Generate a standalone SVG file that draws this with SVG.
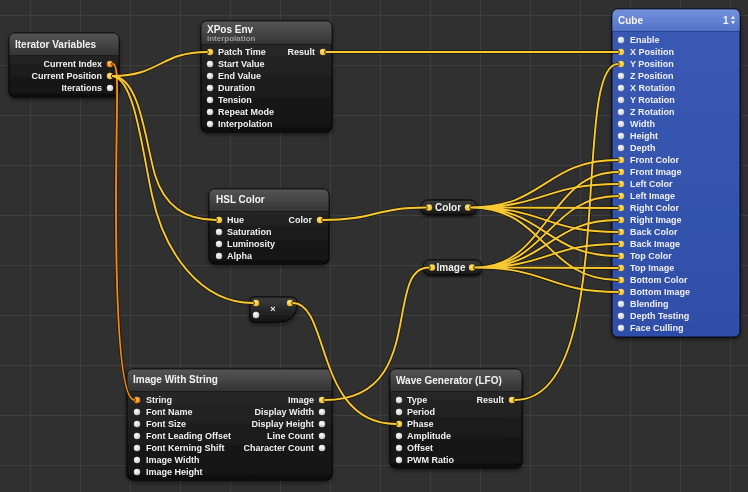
<svg xmlns="http://www.w3.org/2000/svg" width="748" height="492" viewBox="0 0 748 492">
<defs>
<pattern id="grid" x="30" y="15" width="50" height="50" patternUnits="userSpaceOnUse">
<path d="M0.5,0 V50 M0,0.5 H50" stroke="#3f3f3f" stroke-width="1" fill="none"/>
</pattern>
<linearGradient id="body" x1="0" y1="0" x2="0" y2="1">
<stop offset="0" stop-color="#2e2e2e"/><stop offset="1" stop-color="#101010"/>
</linearGradient>
<linearGradient id="head" x1="0" y1="0" x2="0" y2="1">
<stop offset="0" stop-color="#555555"/><stop offset="1" stop-color="#343434"/>
</linearGradient>
<linearGradient id="cbody" x1="0" y1="0" x2="0" y2="1">
<stop offset="0" stop-color="#3a5ab4"/><stop offset="1" stop-color="#2f4ea8"/>
</linearGradient>
<linearGradient id="chead" x1="0" y1="0" x2="0" y2="1">
<stop offset="0" stop-color="#7592da"/><stop offset="1" stop-color="#5272c8"/>
</linearGradient>
<linearGradient id="pill" x1="0" y1="0" x2="0" y2="1">
<stop offset="0" stop-color="#3c3c3c"/><stop offset="1" stop-color="#141414"/>
</linearGradient>
<radialGradient id="pw" cx="0.4" cy="0.35" r="0.7">
<stop offset="0" stop-color="#ffffff"/><stop offset="1" stop-color="#c4c4c4"/>
</radialGradient>
<radialGradient id="py" cx="0.4" cy="0.35" r="0.7">
<stop offset="0" stop-color="#ffe780"/><stop offset="1" stop-color="#eab21c"/>
</radialGradient>
<radialGradient id="po" cx="0.4" cy="0.35" r="0.7">
<stop offset="0" stop-color="#ffba5a"/><stop offset="1" stop-color="#ee7a10"/>
</radialGradient>
<filter id="sh" x="-10%" y="-10%" width="120%" height="130%">
<feDropShadow dx="0" dy="2" stdDeviation="2" flood-color="#000" flood-opacity="0.55"/>
</filter>
</defs>
<style>
.nb{fill:url(#body);stroke:#050505;stroke-width:1}
.nh{fill:url(#head)}
.cb{fill:url(#cbody);stroke:#0a0a14;stroke-width:1}
.ch{fill:url(#chead)}
.pl{fill:url(#pill);stroke:#050505;stroke-width:1}
.dv{stroke:#1c1c1c;stroke-width:1}
.t{font-family:"Liberation Sans",Arial,sans-serif;font-weight:bold;font-size:10px;fill:#f2f2f2}
.s{font-family:"Liberation Sans",Arial,sans-serif;font-weight:bold;font-size:8px;fill:#9c9c9c}
.r{font-family:"Liberation Sans",Arial,sans-serif;font-weight:bold;font-size:9px;fill:#f0f0f0}
.e{text-anchor:end}
.m{text-anchor:middle}
.w{fill:url(#pw)}
.y{fill:url(#py)}
.o{fill:url(#po)}
.wu{fill:none;stroke:#1e1800;stroke-width:3.6;stroke-linecap:round}
.wy{fill:none;stroke:#f6c836;stroke-width:1.9;stroke-linecap:round}
.wo{fill:none;stroke:#f28a12;stroke-width:1.9;stroke-linecap:round}
</style>
<rect width="748" height="492" fill="#303030"/>
<rect width="748" height="492" fill="url(#grid)"/>

<g id="iterator-variables" filter="url(#sh)">
<rect class="nb" x="9" y="33" width="110" height="64" rx="6"/>
<path class="nh" d="M9.5,55 V39 Q9.5,33.5 15,33.5 H113 Q118.5,33.5 118.5,39 V55 Z"/>
<line class="dv" x1="10" y1="55.5" x2="118" y2="55.5"/>
<text class="t" x="15" y="47.5">Iterator Variables</text>
<text class="r e" x="102" y="67.2">Current Index</text>
<text class="r e" x="102" y="79.2">Current Position</text>
<text class="r e" x="102" y="91.2">Iterations</text>
<circle class="o" cx="110" cy="64" r="3.2"/>
<circle class="y" cx="110" cy="76" r="3.2"/>
<circle class="w" cx="110" cy="88" r="3.2"/>
</g>

<g id="xpos-env" filter="url(#sh)">
<rect class="nb" x="201" y="21" width="131" height="111" rx="6"/>
<path class="nh" d="M201.5,44 V27 Q201.5,21.5 207,21.5 H326 Q331.5,21.5 331.5,27 V44 Z"/>
<line class="dv" x1="202" y1="44.5" x2="331" y2="44.5"/>
<text class="t" x="207" y="32.5">XPos Env</text>
<text class="s" x="207" y="41">Interpolation</text>
<circle class="y" cx="210" cy="52" r="3.2"/>
<circle class="w" cx="210" cy="64" r="3.2"/>
<circle class="w" cx="210" cy="76" r="3.2"/>
<circle class="w" cx="210" cy="88" r="3.2"/>
<circle class="w" cx="210" cy="100" r="3.2"/>
<circle class="w" cx="210" cy="112" r="3.2"/>
<circle class="w" cx="210" cy="124" r="3.2"/>
<text class="r" x="218" y="55.2">Patch Time</text>
<text class="r" x="218" y="67.2">Start Value</text>
<text class="r" x="218" y="79.2">End Value</text>
<text class="r" x="218" y="91.2">Duration</text>
<text class="r" x="218" y="103.2">Tension</text>
<text class="r" x="218" y="115.2">Repeat Mode</text>
<text class="r" x="218" y="127.2">Interpolation</text>
<text class="r e" x="315" y="55.2">Result</text>
<circle class="y" cx="323" cy="52" r="3.2"/>
</g>

<g id="hsl-color" filter="url(#sh)">
<rect class="nb" x="209" y="189" width="120" height="75" rx="6"/>
<path class="nh" d="M209.5,211 V195 Q209.5,189.5 215,189.5 H323 Q328.5,189.5 328.5,195 V211 Z"/>
<line class="dv" x1="210" y1="211.5" x2="328" y2="211.5"/>
<text class="t" x="216" y="202.5">HSL Color</text>
<circle class="y" cx="219" cy="220" r="3.2"/>
<circle class="w" cx="219" cy="232" r="3.2"/>
<circle class="w" cx="219" cy="244" r="3.2"/>
<circle class="w" cx="219" cy="256" r="3.2"/>
<text class="r" x="227" y="223.2">Hue</text>
<text class="r" x="227" y="235.2">Saturation</text>
<text class="r" x="227" y="247.2">Luminosity</text>
<text class="r" x="227" y="259.2">Alpha</text>
<text class="r e" x="312" y="223.2">Color</text>
<circle class="y" cx="320" cy="220" r="3.2"/>
</g>

<g id="color-splitter" filter="url(#sh)">
<rect class="pl" x="421" y="200" width="56" height="15" rx="7"/>
<circle class="y" cx="429" cy="207.5" r="3.2"/>
<circle class="y" cx="468" cy="207.5" r="3.2"/>
<text class="t m" x="448" y="211">Color</text>
</g>

<g id="image-splitter" filter="url(#sh)">
<rect class="pl" x="423" y="260" width="59" height="15" rx="7"/>
<circle class="y" cx="432" cy="267.5" r="3.2"/>
<circle class="y" cx="472" cy="267.5" r="3.2"/>
<text class="t m" x="451" y="271">Image</text>
</g>

<g id="multiply" filter="url(#sh)">
<path class="pl" d="M254,297 H291 Q297,297 297,303 Q297,322 278,322 H254 Q250,322 250,318 V301 Q250,297 254,297 Z"/>
<circle class="y" cx="256" cy="303" r="3.2"/>
<circle class="y" cx="290" cy="303" r="3.2"/>
<circle class="w" cx="256" cy="315" r="3.2"/>
<text class="r m" x="273" y="312">×</text>
</g>

<g id="image-with-string" filter="url(#sh)">
<rect class="nb" x="127" y="369" width="205" height="111" rx="6"/>
<path class="nh" d="M127.5,391 V375 Q127.5,369.5 133,369.5 H326 Q331.5,369.5 331.5,375 V391 Z"/>
<line class="dv" x1="128" y1="391.5" x2="331" y2="391.5"/>
<text class="t" x="133" y="382.5">Image With String</text>
<circle class="o" cx="137" cy="400" r="3.2"/>
<circle class="w" cx="137" cy="412" r="3.2"/>
<circle class="w" cx="137" cy="424" r="3.2"/>
<circle class="w" cx="137" cy="436" r="3.2"/>
<circle class="w" cx="137" cy="448" r="3.2"/>
<circle class="w" cx="137" cy="460" r="3.2"/>
<circle class="w" cx="137" cy="472" r="3.2"/>
<text class="r" x="146" y="403.2">String</text>
<text class="r" x="146" y="415.2">Font Name</text>
<text class="r" x="146" y="427.2">Font Size</text>
<text class="r" x="146" y="439.2">Font Leading Offset</text>
<text class="r" x="146" y="451.2">Font Kerning Shift</text>
<text class="r" x="146" y="463.2">Image Width</text>
<text class="r" x="146" y="475.2">Image Height</text>
<text class="r e" x="314" y="403.2">Image</text>
<text class="r e" x="314" y="415.2">Display Width</text>
<text class="r e" x="314" y="427.2">Display Height</text>
<text class="r e" x="314" y="439.2">Line Count</text>
<text class="r e" x="314" y="451.2">Character Count</text>
<circle class="y" cx="322" cy="400" r="3.2"/>
<circle class="w" cx="322" cy="412" r="3.2"/>
<circle class="w" cx="322" cy="424" r="3.2"/>
<circle class="w" cx="322" cy="436" r="3.2"/>
<circle class="w" cx="322" cy="448" r="3.2"/>
</g>

<g id="wave-generator" filter="url(#sh)">
<rect class="nb" x="390" y="369" width="132" height="99" rx="6"/>
<path class="nh" d="M390.5,391 V375 Q390.5,369.5 396,369.5 H516 Q521.5,369.5 521.5,375 V391 Z"/>
<line class="dv" x1="391" y1="391.5" x2="521" y2="391.5"/>
<text class="t" x="396" y="383.5">Wave Generator (LFO)</text>
<circle class="w" cx="399" cy="400" r="3.2"/>
<circle class="w" cx="399" cy="412" r="3.2"/>
<circle class="y" cx="399" cy="424" r="3.2"/>
<circle class="w" cx="399" cy="436" r="3.2"/>
<circle class="w" cx="399" cy="448" r="3.2"/>
<circle class="w" cx="399" cy="460" r="3.2"/>
<text class="r" x="407" y="403.2">Type</text>
<text class="r" x="407" y="415.2">Period</text>
<text class="r" x="407" y="427.2">Phase</text>
<text class="r" x="407" y="439.2">Amplitude</text>
<text class="r" x="407" y="451.2">Offset</text>
<text class="r" x="407" y="463.2">PWM Ratio</text>
<text class="r e" x="504" y="403.2">Result</text>
<circle class="y" cx="512" cy="400" r="3.2"/>
</g>

<g id="cube" filter="url(#sh)">
<rect class="cb" x="612" y="9" width="128" height="328" rx="6"/>
<path class="ch" d="M612.5,31 V15 Q612.5,9.5 618,9.5 H734 Q739.5,9.5 739.5,15 V31 Z"/>
<line x1="613" y1="31.5" x2="739" y2="31.5" stroke="#2a448f" stroke-width="1"/>
<text class="t" x="618" y="23.5">Cube</text>
<text class="t" x="723" y="23.5">1</text>
<path d="M731,19 L735,19 L733,15.5 Z M731,21 L735,21 L733,24.5 Z" fill="#e8ecf8"/>
<circle class="w" cx="621" cy="40" r="3.2"/>
<circle class="y" cx="621" cy="52" r="3.2"/>
<circle class="y" cx="621" cy="64" r="3.2"/>
<circle class="w" cx="621" cy="76" r="3.2"/>
<circle class="w" cx="621" cy="88" r="3.2"/>
<circle class="w" cx="621" cy="100" r="3.2"/>
<circle class="w" cx="621" cy="112" r="3.2"/>
<circle class="w" cx="621" cy="124" r="3.2"/>
<circle class="w" cx="621" cy="136" r="3.2"/>
<circle class="w" cx="621" cy="148" r="3.2"/>
<circle class="y" cx="621" cy="160" r="3.2"/>
<circle class="y" cx="621" cy="172" r="3.2"/>
<circle class="y" cx="621" cy="184" r="3.2"/>
<circle class="y" cx="621" cy="196" r="3.2"/>
<circle class="y" cx="621" cy="208" r="3.2"/>
<circle class="y" cx="621" cy="220" r="3.2"/>
<circle class="y" cx="621" cy="232" r="3.2"/>
<circle class="y" cx="621" cy="244" r="3.2"/>
<circle class="y" cx="621" cy="256" r="3.2"/>
<circle class="y" cx="621" cy="268" r="3.2"/>
<circle class="y" cx="621" cy="280" r="3.2"/>
<circle class="y" cx="621" cy="292" r="3.2"/>
<circle class="w" cx="621" cy="304" r="3.2"/>
<circle class="w" cx="621" cy="316" r="3.2"/>
<circle class="w" cx="621" cy="328" r="3.2"/>
<text class="r" x="630" y="43.2">Enable</text>
<text class="r" x="630" y="55.2">X Position</text>
<text class="r" x="630" y="67.2">Y Position</text>
<text class="r" x="630" y="79.2">Z Position</text>
<text class="r" x="630" y="91.2">X Rotation</text>
<text class="r" x="630" y="103.2">Y Rotation</text>
<text class="r" x="630" y="115.2">Z Rotation</text>
<text class="r" x="630" y="127.2">Width</text>
<text class="r" x="630" y="139.2">Height</text>
<text class="r" x="630" y="151.2">Depth</text>
<text class="r" x="630" y="163.2">Front Color</text>
<text class="r" x="630" y="175.2">Front Image</text>
<text class="r" x="630" y="187.2">Left Color</text>
<text class="r" x="630" y="199.2">Left Image</text>
<text class="r" x="630" y="211.2">Right Color</text>
<text class="r" x="630" y="223.2">Right Image</text>
<text class="r" x="630" y="235.2">Back Color</text>
<text class="r" x="630" y="247.2">Back Image</text>
<text class="r" x="630" y="259.2">Top Color</text>
<text class="r" x="630" y="271.2">Top Image</text>
<text class="r" x="630" y="283.2">Bottom Color</text>
<text class="r" x="630" y="295.2">Bottom Image</text>
<text class="r" x="630" y="307.2">Blending</text>
<text class="r" x="630" y="319.2">Depth Testing</text>
<text class="r" x="630" y="331.2">Face Culling</text>
</g>

<g id="connectors">
<g class="under">
<path class="wu" d="M113,64 C120,64 116,110 116,200 C116,330 122,398 134,400"/>
<path class="wu" d="M113,76 C160,76 160,52 207,52"/>
<path class="wu" d="M113,76 C140,78 145,140 155,175 C165,208 188,220 216,220"/>
<path class="wu" d="M113,76 C135,80 142,150 152,195 C164,252 200,303 253,303"/>
<path class="wu" d="M326,52 L618,52"/>
<path class="wu" d="M323,220 C375,220 375,207.5 426,207.5"/>
<path class="wu" d="M471,207.5 C545,207.5 545,160 618,160 M471,207.5 C545,207.5 545,184 618,184 M471,207.5 C545,207.5 545,208 618,208 M471,207.5 C545,207.5 545,232 618,232 M471,207.5 C545,207.5 545,256 618,256 M471,207.5 C545,207.5 545,280 618,280"/>
<path class="wu" d="M475,267.5 C548,267.5 548,172 618,172 M475,267.5 C548,267.5 548,196 618,196 M475,267.5 C548,267.5 548,220 618,220 M475,267.5 C548,267.5 548,244 618,244 M475,267.5 C548,267.5 548,268 618,268 M475,267.5 C548,267.5 548,292 618,292"/>
<path class="wu" d="M325,400 C428,400 383,267.5 429,267.5"/>
<path class="wu" d="M293,303 C330,303 315,424 396,424"/>
<path class="wu" d="M515,400 C620,400 570,64 618,64"/>
</g>
<path class="wo" d="M113,64 C120,64 116,110 116,200 C116,330 122,398 134,400"/>
<path class="wy" d="M113,76 C160,76 160,52 207,52"/>
<path class="wy" d="M113,76 C140,78 145,140 155,175 C165,208 188,220 216,220"/>
<path class="wy" d="M113,76 C135,80 142,150 152,195 C164,252 200,303 253,303"/>
<path class="wy" d="M326,52 L618,52"/>
<path class="wy" d="M323,220 C375,220 375,207.5 426,207.5"/>
<path class="wy" d="M471,207.5 C545,207.5 545,160 618,160 M471,207.5 C545,207.5 545,184 618,184 M471,207.5 C545,207.5 545,208 618,208 M471,207.5 C545,207.5 545,232 618,232 M471,207.5 C545,207.5 545,256 618,256 M471,207.5 C545,207.5 545,280 618,280"/>
<path class="wy" d="M475,267.5 C548,267.5 548,172 618,172 M475,267.5 C548,267.5 548,196 618,196 M475,267.5 C548,267.5 548,220 618,220 M475,267.5 C548,267.5 548,244 618,244 M475,267.5 C548,267.5 548,268 618,268 M475,267.5 C548,267.5 548,292 618,292"/>
<path class="wy" d="M325,400 C428,400 383,267.5 429,267.5"/>
<path class="wy" d="M293,303 C330,303 315,424 396,424"/>
<path class="wy" d="M515,400 C620,400 570,64 618,64"/>
</g>
</svg>
